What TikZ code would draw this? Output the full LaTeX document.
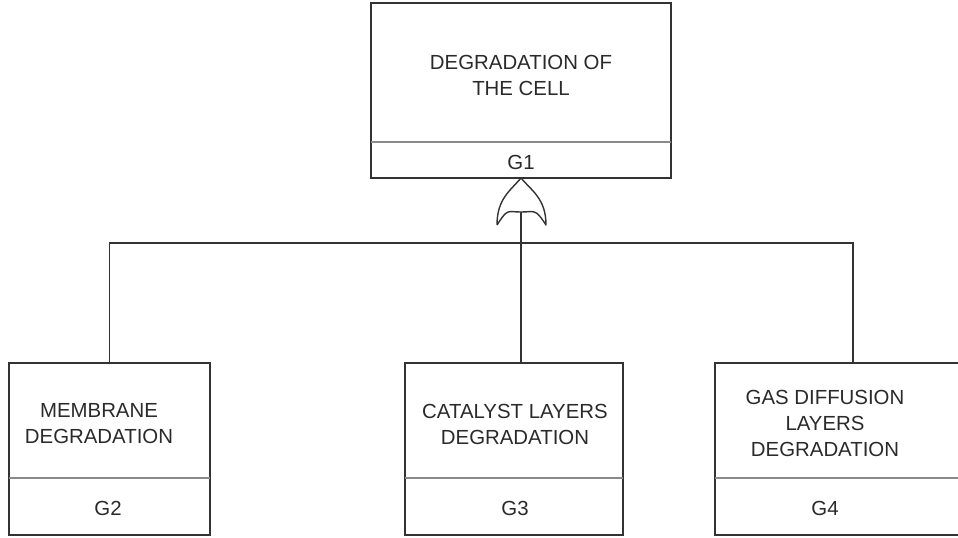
\documentclass[tikz,border=0pt]{standalone}
\usepackage{fontspec}
\setmainfont{Liberation Sans}
\usepackage{xcolor}
\usetikzlibrary{calc, positioning}

\definecolor{edgegray}{HTML}{333333}
\definecolor{rulegray}{HTML}{8A8A8A}
\definecolor{inkgray}{HTML}{2A2A2A}

\tikzset{
  gatebox/.style={draw=edgegray, line width=0.7pt, inner sep=0pt, outer sep=0pt},
  seprule/.style={draw=rulegray, line width=0.8pt},
  title/.style={align=center, text=inkgray, inner sep=0pt, font=\fontsize{10.2}{13}\selectfont},
  tag/.style={text=inkgray, inner sep=0pt, font=\fontsize{10.2}{13}\selectfont},
  wire/.style={draw=edgegray, line width=0.7pt}
}

\begin{document}
\begin{tikzpicture}[x=0.5pt, y=-0.5pt]
			\useasboundingbox (0,0) rectangle (958,537);
			\node[gatebox, minimum width=150pt, minimum height=87.5pt] (g1) at (521,90.5) {};
			\draw[seprule] ($(g1.south west)+(0,-36)$) -- ($(g1.south east)+(0,-36)$);
			\node[title] (g1name) at (521,75) {DEGRADATION OF\\THE CELL};
			\node[tag] (g1tag) at (521,162) {G1};
			\node[gatebox, minimum width=100.5pt, minimum height=86pt] (g2) at (109.5,449) {};
			\draw[seprule] ($(g2.south west)+(0,-57)$) -- ($(g2.south east)+(0,-57)$);
			\node[title] (g2name) at (99,424) {MEMBRANE\\DEGRADATION};
			\node[tag] (g2tag) at (108,508) {G2};
			\node[gatebox, minimum width=109pt, minimum height=86pt] (g3) at (514,449) {};
			\draw[seprule] ($(g3.south west)+(0,-57)$) -- ($(g3.south east)+(0,-57)$);
			\node[title] (g3name) at (515,424) {CATALYST LAYERS\\DEGRADATION};
			\node[tag] (g3tag) at (515,508) {G3};
			\node[gatebox, minimum width=138pt, minimum height=86pt] (g4) at (853,449) {};
			\draw[seprule] ($(g4.south west)+(0,-57)$) -- ($(g4.south east)+(0,-57)$);
			\node[title] (g4name) at (825,423) {GAS DIFFUSION\\LAYERS\\DEGRADATION};
			\node[tag] (g4tag) at (825,508) {G4};
			\coordinate (apex) at (g1.south);
			\coordinate (left) at ($(apex)+(-24,47)$);
			\coordinate (right) at ($(apex)+(25,47)$);
			\coordinate (inlet) at ($(apex)+(0,34)$);
			\coordinate (bus) at (521,243);
			\draw[wire, line join=round] (left) .. controls +(0,-26) and +(-11,13) .. (apex)
			  .. controls +(11,13) and +(0,-26) .. (right)
			  .. controls +(-11,-17) and +(14,0) .. (inlet)
			  .. controls +(-14,0) and +(11,-17) .. (left);
			\draw[wire] (inlet) -- (g3.north -| inlet);
			\draw[wire] (g2.north) |- (bus) -| (g4.north);
		\end{tikzpicture}
\end{document}
